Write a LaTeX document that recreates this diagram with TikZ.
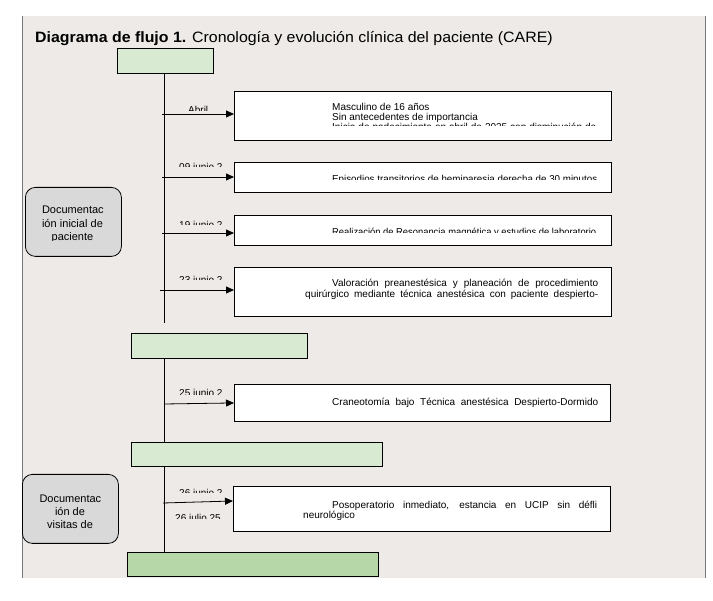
\documentclass[tikz,border=0pt]{standalone}
\usepackage{fontspec}
\usepackage{graphicx}
\setmainfont{Liberation Sans}
\usetikzlibrary{arrows.meta,calc}
\definecolor{panel}{RGB}{237,234,231}
\definecolor{lgreen}{RGB}{217,234,211}
\definecolor{dgreen}{RGB}{182,215,168}
\definecolor{lgrey}{RGB}{217,217,217}
\definecolor{pborder}{RGB}{120,120,120}
\newcommand\jline[2]{\sbox0{#2}\ifdim\wd0>#1\resizebox{#1}{\height}{#2}\else\makebox[#1][s]{#2}\fi}
\begin{document}
\begin{tikzpicture}[x=1pt,y=-1pt,
  greenbox/.style={draw=black, line width=0.9pt, fill=lgreen, inner sep=0pt, anchor=north west},
  evbox/.style={draw=black, line width=0.9pt, fill=white, inner sep=0pt, anchor=north west},
  docbox/.style={draw=black, line width=0.8pt, fill=lgrey, rounded corners=10pt, inner sep=0pt, anchor=north west},
  tline/.style={draw=black, line width=0.8pt},
  arr/.style={draw=black, line width=0.8pt, -{Triangle[length=8pt,width=7pt]}},
  lab/.style={font=\fontsize{10}{12}\selectfont, inner sep=0pt, anchor=base west},
  txt/.style={font=\fontsize{10}{12}\selectfont, inner sep=0pt, anchor=base west},
  doctxt/.style={font=\fontsize{11}{13}\selectfont, inner sep=0pt, anchor=base},
]
\useasboundingbox (0,0) rectangle (713,601);
\fill[panel] (22,16) rectangle (705,578);
\draw[pborder, line width=0.8pt] (22,16) -- (22,578);
\draw[pborder, line width=0.8pt] (705,16) -- (705,578);

% title
\node[inner sep=0pt, anchor=base west, font=\fontsize{15}{18}\selectfont] (title) at (35,42.3)
  {\scalebox{1.06}[1]{\textbf{Diagrama de flujo 1.} Cronología y evolución clínica del paciente (CARE)}};

% green boxes
\node[greenbox, minimum width=96pt, minimum height=25pt] (g1) at (117,48) {};
\node[greenbox, minimum width=176pt, minimum height=25pt] (g2) at (131,333) {};
\node[greenbox, minimum width=251pt, minimum height=24pt] (g3) at (131,442) {};
\node[greenbox, fill=dgreen, minimum width=251pt, minimum height=24pt] (g4) at (127,552) {};

% timeline
\coordinate (t0) at (164,323);
\draw[tline] (t0 |- g1.south) -- (t0);
\draw[tline] (t0 |- g2.south) -- (t0 |- g3.north);
\draw[tline] (t0 |- g3.south) -- (t0 |- g4.north);

% documentation boxes
\node[docbox, minimum width=96pt, minimum height=69pt] (d1) at (25,187) {};
\node[doctxt] (d1a) at (72.5,213.9) {\makebox[61pt][s]{Documentac}};
\node[doctxt] (d1b) at (72.5,227.2) {\makebox[61pt][s]{ión inicial de}};
\begin{scope}
\clip (25,230) rectangle (121,241);
\node[doctxt] (d1c) at (72.5,240.5) {paciente};
\end{scope}
\node[docbox, minimum width=96pt, minimum height=69pt] (d2) at (22,474) {};
\node[doctxt] (d2a) at (70,502.2) {\makebox[61pt][s]{Documentac}};
\node[doctxt] (d2b) at (70,515.4) {ión de};
\node[doctxt] (d2c) at (70,528.2) {visitas de};

% event boxes
\node[evbox, minimum width=377pt, minimum height=49pt] (e1) at (234,91) {};
\node[evbox, minimum width=377pt, minimum height=30pt] (e2) at (234,162) {};
\node[evbox, minimum width=377pt, minimum height=30pt] (e3) at (234,215) {};
\node[evbox, minimum width=377pt, minimum height=49pt] (e4) at (234,267) {};
\node[evbox, minimum width=376pt, minimum height=37pt] (e5) at (234,384) {};
\node[evbox, minimum width=377pt, minimum height=45pt] (e6) at (233,486) {};

% event texts
\node[txt] (x1a) at (332,110.5) {Masculino de 16 años};
\node[txt] (x1b) at (332,120.5) {Sin antecedentes de importancia};
\begin{scope}
\clip (300,121) rectangle (605,125.8);
\node[txt] (x1c) at (332,130.2) {\jline{264pt}{Inicio de padecimiento en abril de 2025 con disminución de}};
\end{scope}
\begin{scope}
\clip (300,170) rectangle (605,180);
\node[txt] (x2) at (332,182.2) {\jline{265pt}{Episodios transitorios de hemiparesia derecha de 30 minutos}};
\end{scope}
\begin{scope}
\clip (300,222) rectangle (605,233);
\node[txt] (x3) at (332,235.2) {\jline{264pt}{Realización de Resonancia magnética y estudios de laboratorio}};
\end{scope}
\node[txt] (x4a) at (332,286.2) {\jline{266pt}{Valoración preanestésica y planeación de procedimiento}};
\node[txt] (x4b) at (305,297.9) {\jline{293pt}{quirúrgico mediante técnica anestésica con paciente despierto-}};
\node[txt] (x5) at (332,405.5) {\jline{266pt}{Craneotomía bajo Técnica anestésica Despierto-Dormido}};
\node[txt] (x6a) at (332,508.2) {\jline{265pt}{Posoperatorio inmediato, estancia en UCIP sin défli}};
\node[txt] (x6b) at (303,518.9) {neurológico};

% arrows
\coordinate (a1) at (162,114);
\coordinate (a2) at (162,177);
\coordinate (a3) at (162,233);
\coordinate (a4) at (160,290);
\coordinate (a5) at (164,404);
\coordinate (a6) at (163,503);
\draw[arr] (a1) -- (a1 -| e1.west);
\draw[arr] (a2) -- (a2 -| e2.west);
\draw[arr] (a3) -- (a3 -| e3.west);
\draw[arr] (a4) -- (a4 -| e4.west);
\draw[arr] (a5) -- (e5.west);
\draw[arr] (a6) -- ($(e6.north west)+(0,15)$);

% date labels (clipped)
\begin{scope}
\clip (170,100) rectangle (232,111);
\node[lab] (l1) at (188,113.2) {Abril};
\end{scope}
\begin{scope}
\clip (170,155) rectangle (232,167);
\node[lab] (l2) at (179,170.2) {09 junio 2};
\end{scope}
\begin{scope}
\clip (170,213) rectangle (232,225);
\node[lab] (l3) at (179,228.2) {19 junio 2};
\end{scope}
\begin{scope}
\clip (170,268) rectangle (232,280);
\node[lab] (l4) at (179,283.2) {23 junio 2};
\end{scope}
\begin{scope}
\clip (170,381) rectangle (232,395);
\node[lab] (l5) at (179,396.2) {25 junio 2};
\end{scope}
\begin{scope}
\clip (170,481) rectangle (232,493);
\node[lab] (l6) at (179,496.2) {26 junio 2};
\end{scope}
\begin{scope}
\clip (170,506) rectangle (232,519);
\node[lab] (l7) at (175,521.2) {26 julio 25};
\end{scope}
\end{tikzpicture}
\end{document}
